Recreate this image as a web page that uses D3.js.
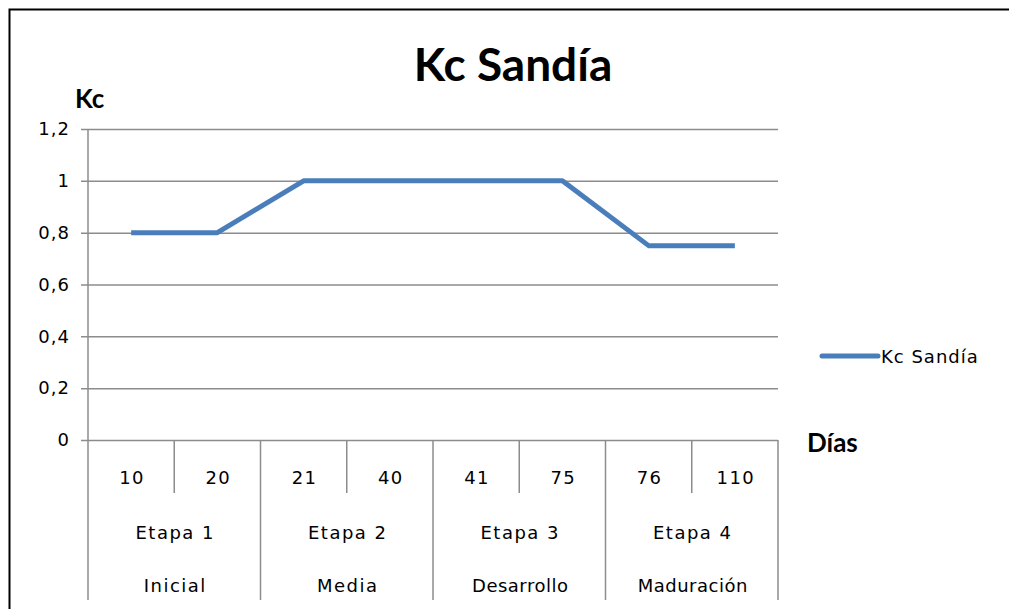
<!DOCTYPE html>
<html>
<head>
<meta charset="utf-8">
<script src="https://cdn.jsdelivr.net/npm/d3@7"></script>
<style>
  body { margin: 0; background: #fff; overflow: hidden; }
  svg text { fill: #000; }
  .tick-lbl { font-family: "DejaVu Sans", sans-serif; font-size: 18px; letter-spacing: 1.5px; }
</style>
</head>
<body>
<svg id="chart" width="1009" height="609"></svg>
<script>
//
// Data
//
var dias = ["10", "20", "21", "40", "41", "75", "76", "110"];
var etapas = ["Etapa 1", "Etapa 2", "Etapa 3", "Etapa 4"];
var fases = ["Inicial", "Media", "Desarrollo", "Maduración"];
var kc = [0.8, 0.8, 1, 1, 1, 1, 0.75, 0.75];
var y_ticks = [0, 0.2, 0.4, 0.6, 0.8, 1, 1.2];
var y_labels = ["0", "0,2", "0,4", "0,6", "0,8", "1", "1,2"];
var serie = "Kc Sandía";

var blue = "#4a7ebb";
var grid = "#8c8c8c";

//
// Layout
//
var plotLeft = 88, plotRight = 778, plotTop = 129, plotBottom = 440;

var svg = d3.select("#chart");

// outer frame (right and bottom edges fall outside the picture)
svg.append("rect")
    .attr("x", 9.5).attr("y", 9.5)
    .attr("width", 1030).attr("height", 640)
    .attr("fill", "none")
    .attr("stroke", "#000")
    .attr("stroke-width", 2);

var x = d3.scaleBand().domain(d3.range(dias.length)).range([plotLeft, plotRight]);
var y = d3.scaleLinear().domain([0, 1.2]).range([plotBottom, plotTop]);

// gridlines + y ticks
var yAxis = d3.axisLeft(y)
    .tickValues(y_ticks)
    .tickSize(-(plotRight - plotLeft))
    .tickFormat(function (d, i) { return y_labels[i]; });

var gy = svg.append("g")
    .attr("transform", "translate(" + plotLeft + ",0)")
    .call(yAxis);
gy.select(".domain").remove();
gy.selectAll(".tick line")
    .attr("x1", -7)
    .attr("stroke", grid)
    .attr("stroke-width", 1.5);
gy.selectAll(".tick text")
    .attr("x", -18)
    .attr("class", "tick-lbl")
    .style("letter-spacing", "1px");

// vertical axis line
svg.append("line")
    .attr("x1", plotLeft).attr("x2", plotLeft)
    .attr("y1", plotTop).attr("y2", plotBottom)
    .attr("stroke", grid).attr("stroke-width", 1.5);

// category axis: small dividers between days, long dividers between stages
var g = svg.append("g");
d3.range(dias.length + 1).forEach(function (i) {
    var xx = i < dias.length ? x(i) : plotRight;
    var big = i % 2 === 0;
    g.append("line")
        .attr("x1", xx).attr("x2", xx)
        .attr("y1", plotBottom).attr("y2", big ? 600 : 493)
        .attr("stroke", grid).attr("stroke-width", 1.5);
});

g.selectAll("text.dia")
    .data(dias)
    .enter()
    .append("text")
    .attr("class", "tick-lbl")
    .attr("x", function (d, i) { return x(i) + x.bandwidth() / 2 + 1; })
    .attr("y", 484)
    .attr("text-anchor", "middle")
    .text(function (d) { return d; });

var groupX = function (i) { return x(i * 2) + x.bandwidth() + 1; };

g.selectAll("text.etapa")
    .data(etapas)
    .enter()
    .append("text")
    .attr("class", "tick-lbl")
    .attr("x", function (d, i) { return groupX(i); })
    .attr("y", 539)
    .attr("text-anchor", "middle")
    .text(function (d) { return d; });

g.selectAll("text.fase")
    .data(fases)
    .enter()
    .append("text")
    .attr("class", "tick-lbl")
    .attr("x", function (d, i) { return groupX(i); })
    .attr("y", 592)
    .attr("text-anchor", "middle")
    .style("letter-spacing", function (d) { return d.length > 8 ? "0.5px" : "1.5px"; })
    .text(function (d) { return d; });

// series line
var line = d3.line()
    .x(function (d, i) { return x(i) + x.bandwidth() / 2; })
    .y(function (d) { return y(d); });

svg.append("path")
    .datum(kc)
    .attr("d", line)
    .attr("fill", "none")
    .attr("stroke", blue)
    .attr("stroke-width", 5)
    .attr("stroke-linejoin", "round");

// titles
svg.append("text")
    .attr("x", 513).attr("y", 81)
    .attr("text-anchor", "middle")
    .style("font-family", "Lato, sans-serif")
    .style("font-weight", "bold")
    .style("font-size", "46px")
    .text(serie);

svg.append("text")
    .attr("x", 75).attr("y", 108)
    .style("font-family", "Lato, sans-serif")
    .style("font-weight", "bold")
    .style("font-size", "26px")
    .text("Kc");

svg.append("text")
    .attr("x", 807).attr("y", 452)
    .style("font-family", "Lato, sans-serif")
    .style("font-weight", "bold")
    .style("font-size", "26px")
    .text("Días");

// legend
svg.append("line")
    .attr("x1", 822).attr("x2", 878)
    .attr("y1", 356).attr("y2", 356)
    .attr("stroke", blue).attr("stroke-width", 5)
    .attr("stroke-linecap", "round");

svg.append("text")
    .attr("class", "tick-lbl")
    .attr("x", 881).attr("y", 363)
    .style("letter-spacing", "1px")
    .text(serie);
</script>
</body>
</html>
